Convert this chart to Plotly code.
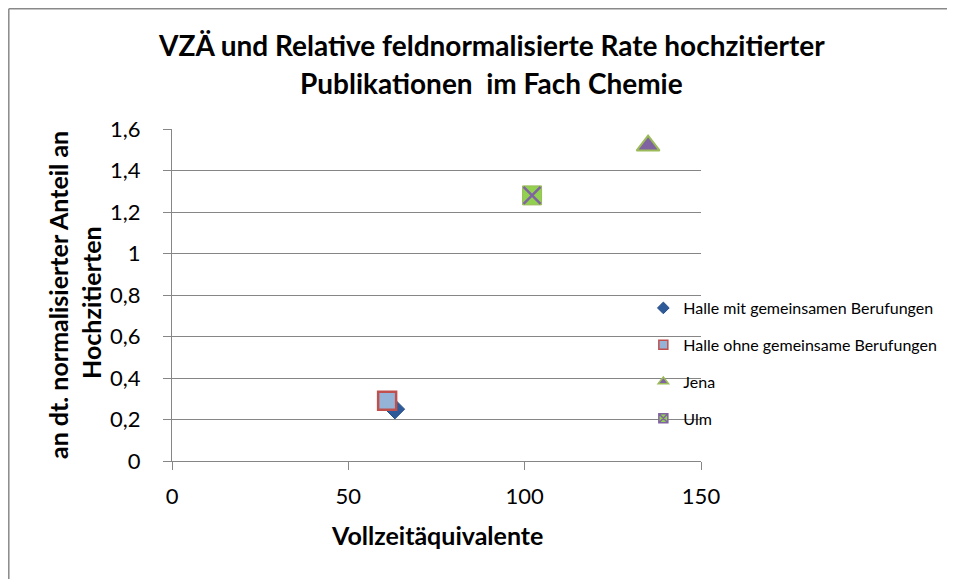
import plotly.graph_objects as go

series_names = ["Halle mit gemeinsamen Berufungen", "Halle ohne gemeinsame Berufungen", "Jena", "Ulm"]
vza = [63.2, 61.0, 135.0, 102.1]
rate = [0.25, 0.29, 1.52, 1.28]

title_line1 = "VZÄ und Relative feldnormalisierte Rate hochzitierter"
title_line2 = "Publikationen\u00a0 im Fach Chemie"
x_title = "Vollzeitäquivalente"
y_title_1 = "an dt. normalisierter Anteil an"
y_title_2 = "Hochzitierten"

FONT = "Lato, 'Open Sans', sans-serif"
GREY = "#868686"

fig = go.Figure()

styles = [
    dict(symbol="diamond", size=15, color="#2E5A99", line=dict(color="#264F86", width=1)),
    dict(symbol="square", size=18, color="#95B3D7", line=dict(color="#C0504D", width=2.5)),
    dict(symbol="triangle-up", size=20, color="#8064A2", line=dict(color="#9BBB59", width=2)),
    dict(symbol="square", size=19, color="#92D050", line=dict(color="#9BBB59", width=1)),
]
legend_styles = [
    dict(symbol="diamond", size=9, color="#2E5A99", line=dict(color="#264F86", width=1)),
    dict(symbol="square", size=9, color="#95B3D7", line=dict(color="#C0504D", width=1.5)),
    dict(symbol="triangle-up", size=9, color="#8064A2", line=dict(color="#9BBB59", width=1.5)),
    dict(symbol="square-x", size=9, color="#92D050", line=dict(color="#8064A2", width=1.5)),
]

for i in range(4):
    fig.add_trace(go.Scatter(
        x=[vza[i]], y=[rate[i]], mode="markers", name=series_names[i], legendgroup="g%d" % i,
        showlegend=False, marker=styles[i]))
    if i == 3:
        fig.add_trace(go.Scatter(
            x=[vza[i]], y=[rate[i]], mode="markers", name=series_names[i], legendgroup="g3",
            showlegend=False,
            marker=dict(symbol="x-thin-open", size=17, color="#8064A2",
                        line=dict(color="#8064A2", width=2.5))))

# legend entries
for i in range(4):
    fig.add_trace(go.Scatter(
        x=[None], y=[None], mode="markers", name=series_names[i], legendgroup="g%d" % i,
        showlegend=True, marker=legend_styles[i]))

W, H = 955, 579
L, T, PW, PH = 164, 121, 529, 332
bx = (0.8 - L) / PW
by = 1 + (T - 0.8) / PH

fig.update_layout(
    width=W, height=H,
    margin=dict(l=L, r=W - L - PW, t=T, b=H - T - PH, pad=0),
    paper_bgcolor="white", plot_bgcolor="white",
    separators=",.",
    font=dict(family=FONT, color="#000000"),
    showlegend=True,
    legend=dict(
        x=0.891, y=0.512, xanchor="left", yanchor="top",
        font=dict(family=FONT, size=16, color="#000000"),
        bgcolor="rgba(0,0,0,0)", borderwidth=0,
        tracegroupgap=13,
    ),
    xaxis=dict(
        range=[0, 150], tickvals=[0, 50, 100, 150], showgrid=False, zeroline=False,
        showline=True, linecolor=GREY, linewidth=1.3,
        ticks="outside", ticklen=8, tickcolor=GREY, tickwidth=1.3,
        tickfont=dict(family=FONT, size=22, color="#000000"),
        ticklabelstandoff=7,
    ),
    yaxis=dict(
        range=[0, 1.6], dtick=0.2, tick0=0, showgrid=True, gridcolor=GREY, gridwidth=1.3,
        zeroline=False, showline=True, linecolor=GREY, linewidth=1.3,
        ticks="outside", ticklen=8, tickcolor=GREY, tickwidth=1.3,
        tickfont=dict(family=FONT, size=22, color="#000000"),
        ticklabelstandoff=18,
    ),
    shapes=[
        dict(type="line", xref="paper", yref="paper", x0=bx, x1=2.0, y0=by, y1=by,
             line=dict(color="#898989", width=1.5), layer="below"),
        dict(type="line", xref="paper", yref="paper", x0=bx, x1=bx, y0=by, y1=-2.0,
             line=dict(color="#898989", width=1.5), layer="below"),
    ],
    annotations=[
        dict(text="<b>" + title_line1 + "</b>", xref="paper", yref="paper",
             x=(491 - 172) / PW, y=(461 - 45) / PH, xanchor="center", yanchor="middle",
             showarrow=False, font=dict(family=FONT, size=28)),
        dict(text="<b>" + title_line2 + "</b>", xref="paper", yref="paper",
             x=(491 - 172) / PW, y=(461 - 83) / PH, xanchor="center", yanchor="middle",
             showarrow=False, font=dict(family=FONT, size=28)),
        dict(text="<b>" + x_title + "</b>", xref="paper", yref="paper",
             x=0.5, y=(461 - 535) / PH, xanchor="center", yanchor="middle",
             showarrow=False, font=dict(family=FONT, size=25)),
        dict(text="<b>" + y_title_1 + "</b>", xref="paper", yref="paper",
             x=(58 - 172) / PW, y=(461 - 295) / PH, xanchor="center", yanchor="middle",
             textangle=-90, showarrow=False, font=dict(family=FONT, size=25)),
        dict(text="<b>" + y_title_2 + "</b>", xref="paper", yref="paper",
             x=(91 - 172) / PW, y=(461 - 303) / PH, xanchor="center", yanchor="middle",
             textangle=-90, showarrow=False, font=dict(family=FONT, size=25)),
    ],
)

fig.write_html("out.html")
